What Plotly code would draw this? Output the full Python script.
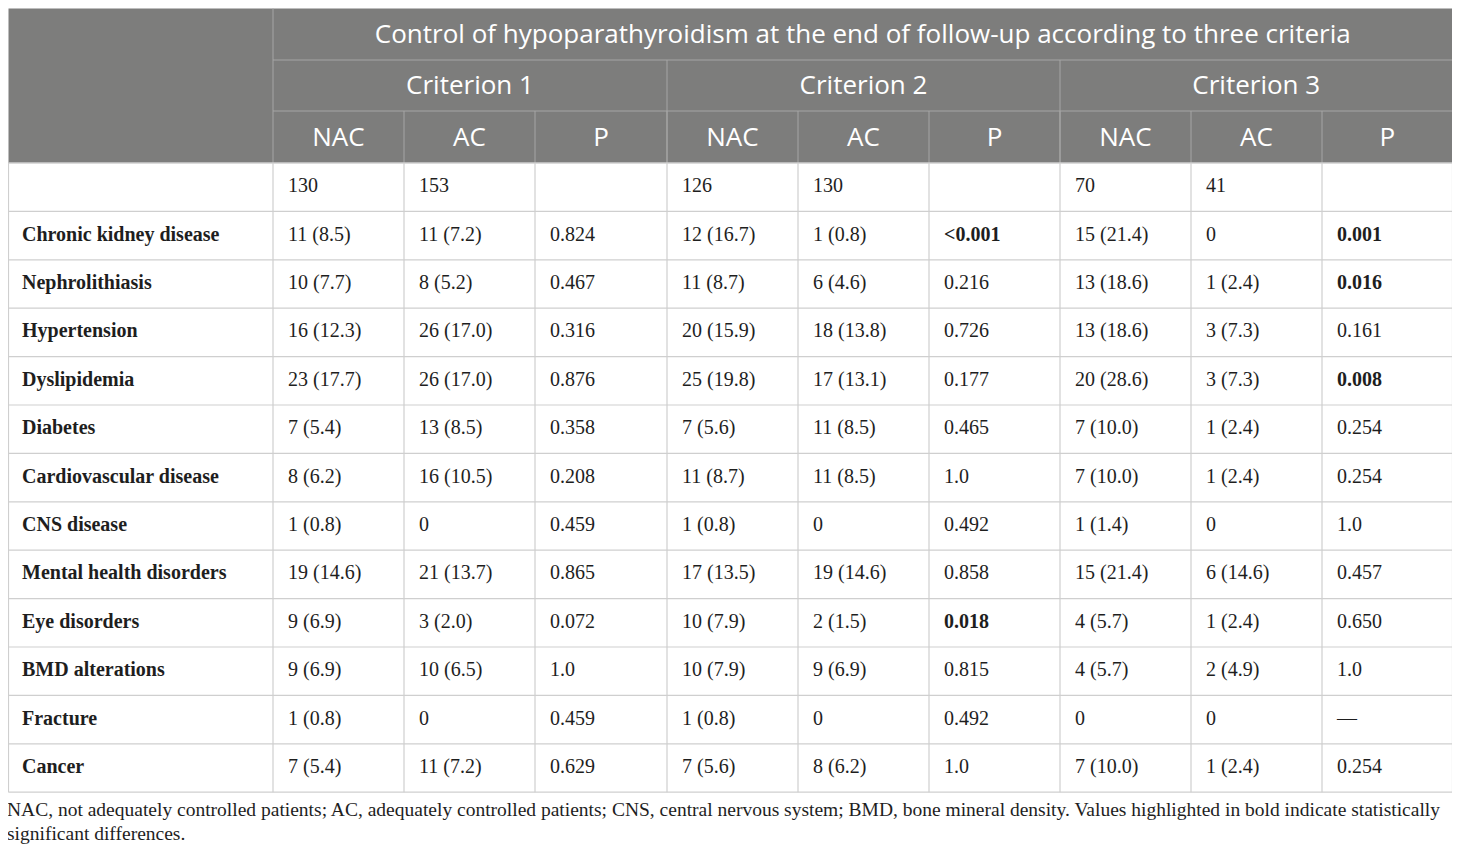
import plotly.graph_objects as go

# table content
title = "Control of hypoparathyroidism at the end of follow-up according to three criteria"
criteria = ["Criterion 1", "Criterion 2", "Criterion 3"]
sub_headers = ["NAC", "AC", "P"]

row_labels = ["", "Chronic kidney disease", "Nephrolithiasis", "Hypertension", "Dyslipidemia",
              "Diabetes", "Cardiovascular disease", "CNS disease", "Mental health disorders",
              "Eye disorders", "BMD alterations", "Fracture", "Cancer"]

crit1_nac = ["130", "11 (8.5)", "10 (7.7)", "16 (12.3)", "23 (17.7)", "7 (5.4)", "8 (6.2)",
             "1 (0.8)", "19 (14.6)", "9 (6.9)", "9 (6.9)", "1 (0.8)", "7 (5.4)"]
crit1_ac = ["153", "11 (7.2)", "8 (5.2)", "26 (17.0)", "26 (17.0)", "13 (8.5)", "16 (10.5)",
            "0", "21 (13.7)", "3 (2.0)", "10 (6.5)", "0", "11 (7.2)"]
crit1_p = ["", "0.824", "0.467", "0.316", "0.876", "0.358", "0.208",
           "0.459", "0.865", "0.072", "1.0", "0.459", "0.629"]
crit2_nac = ["126", "12 (16.7)", "11 (8.7)", "20 (15.9)", "25 (19.8)", "7 (5.6)", "11 (8.7)",
             "1 (0.8)", "17 (13.5)", "10 (7.9)", "10 (7.9)", "1 (0.8)", "7 (5.6)"]
crit2_ac = ["130", "1 (0.8)", "6 (4.6)", "18 (13.8)", "17 (13.1)", "11 (8.5)", "11 (8.5)",
            "0", "19 (14.6)", "2 (1.5)", "9 (6.9)", "0", "8 (6.2)"]
crit2_p = ["", "<0.001", "0.216", "0.726", "0.177", "0.465", "1.0",
           "0.492", "0.858", "0.018", "0.815", "0.492", "1.0"]
crit3_nac = ["70", "15 (21.4)", "13 (18.6)", "13 (18.6)", "20 (28.6)", "7 (10.0)", "7 (10.0)",
             "1 (1.4)", "15 (21.4)", "4 (5.7)", "4 (5.7)", "0", "7 (10.0)"]
crit3_ac = ["41", "0", "1 (2.4)", "3 (7.3)", "3 (7.3)", "1 (2.4)", "1 (2.4)",
            "0", "6 (14.6)", "1 (2.4)", "2 (4.9)", "0", "1 (2.4)"]
crit3_p = ["", "0.001", "0.016", "0.161", "0.008", "0.254", "0.254",
           "1.0", "0.457", "0.650", "1.0", "—", "0.254"]

# significant p-values shown in bold
bold_p = {"<0.001", "0.001", "0.016", "0.008", "0.018"}

footnote = ["NAC, not adequately controlled patients; AC, adequately controlled patients; CNS, central nervous system; BMD, bone mineral density. Values highlighted in bold indicate statistically",
            "significant differences."]

columns = [crit1_nac, crit1_ac, crit1_p, crit2_nac, crit2_ac, crit2_p, crit3_nac, crit3_ac, crit3_p]

# geometry (page pixels); the page body has an 8px margin
W, H = 1460, 854
OFF = 8
col_edges = [8.5, 273, 404, 535, 667, 798, 929, 1060, 1191, 1322, 1452.5]
head_edges = [8.5, 60, 111, 163]
row_h = 48.4
body_top = head_edges[-1]
row_edges = [body_top + i * row_h for i in range(len(row_labels) + 1)]
pad = 15

HEAD_BG = "#7d7d7c"
HEAD_LINE = "#a6a6a5"
BODY_LINE = "#cfcfcf"
SANS = "Open Sans"
SERIF = "Liberation Serif"
TXT = "#1e1e1e"

shapes = []
# header background
shapes.append(dict(type="rect", x0=col_edges[0], x1=col_edges[-1], y0=head_edges[0], y1=head_edges[-1],
                   fillcolor=HEAD_BG, line=dict(width=0), layer="below"))
# header lines
ln = dict(color=HEAD_LINE, width=1)
shapes.append(dict(type="line", x0=col_edges[1], x1=col_edges[1], y0=head_edges[0], y1=head_edges[3], line=ln))
shapes.append(dict(type="line", x0=col_edges[1], x1=col_edges[-1], y0=head_edges[1], y1=head_edges[1], line=ln))
shapes.append(dict(type="line", x0=col_edges[1], x1=col_edges[-1], y0=head_edges[2], y1=head_edges[2], line=ln))
for k in (4, 7):
    shapes.append(dict(type="line", x0=col_edges[k], x1=col_edges[k], y0=head_edges[1], y1=head_edges[3], line=ln))
for k in range(2, 10):
    shapes.append(dict(type="line", x0=col_edges[k], x1=col_edges[k], y0=head_edges[2], y1=head_edges[3], line=ln))

# body grid
bl = dict(color=BODY_LINE, width=1.2)
for y in row_edges[1:]:
    shapes.append(dict(type="line", x0=col_edges[0], x1=col_edges[-1], y0=y, y1=y, line=bl))
for x in col_edges:
    shapes.append(dict(type="line", x0=x, x1=x, y0=body_top, y1=row_edges[-1], line=bl))
shapes.append(dict(type="line", x0=col_edges[0], x1=col_edges[-1], y0=head_edges[-1], y1=head_edges[-1],
                   line=dict(color=BODY_LINE, width=1.5)))

fig = go.Figure()

# header texts
hx, hy, ht = [], [], []
hx.append((col_edges[1] + col_edges[-1]) / 2)
hy.append((head_edges[0] + head_edges[1]) / 2 + 2)
ht.append(title)
for i, c in enumerate(criteria):
    hx.append((col_edges[1 + 3 * i] + col_edges[4 + 3 * i]) / 2)
    hy.append((head_edges[1] + head_edges[2]) / 2 + 2)
    ht.append(c)
for i in range(9):
    hx.append((col_edges[1 + i] + col_edges[2 + i]) / 2)
    hy.append((head_edges[2] + head_edges[3]) / 2 + 2)
    ht.append(sub_headers[i % 3])
fig.add_trace(go.Scatter(x=hx, y=hy, text=ht, mode="text", textposition="middle center",
                         textfont=dict(family=SANS, size=26, color="white"), hoverinfo="skip"))

# body texts
bx, by, bt = [], [], []
for r, lab in enumerate(row_labels):
    yc = (row_edges[r] + row_edges[r + 1]) / 2
    bx.append(7 + pad)
    by.append(yc)
    bt.append("<b>" + lab + "</b>" if lab else "")
    for c, col in enumerate(columns):
        v = col[r]
        if c % 3 == 2 and v in bold_p:
            v = "<b>" + v + "</b>"
        bx.append(col_edges[1 + c] + pad)
        by.append(yc)
        bt.append(v)
fig.add_trace(go.Scatter(x=bx, y=by, text=bt, mode="text", textposition="middle right",
                         textfont=dict(family=SERIF, size=20, color=TXT), hoverinfo="skip"))

# footnote
fig.add_trace(go.Scatter(x=[7, 7], y=[811, 835], text=footnote, mode="text",
                         textposition="middle right",
                         textfont=dict(family=SERIF, size=19.5, color=TXT), hoverinfo="skip"))

fig.update_layout(
    width=W - OFF, height=H - OFF, margin=dict(l=0, r=0, t=0, b=0),
    paper_bgcolor="white", plot_bgcolor="white", showlegend=False,
    shapes=shapes,
    xaxis=dict(range=[OFF, W], visible=False, fixedrange=True),
    yaxis=dict(range=[H, OFF], visible=False, fixedrange=True),
)

fig.write_html("out.html")
